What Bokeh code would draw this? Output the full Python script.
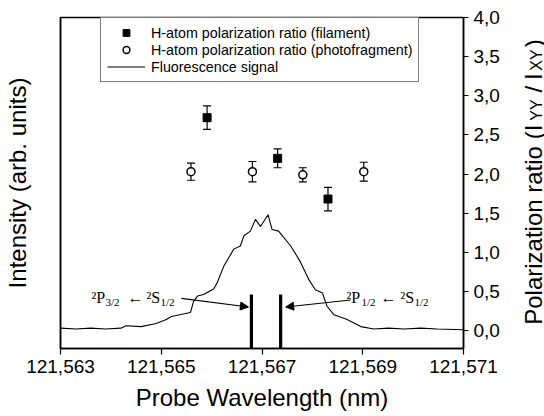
import math
from bokeh.plotting import figure
from bokeh.layouts import row
from bokeh.models import (LinearAxis, FixedTicker, Range1d, Legend, LegendItem,
                          Whisker, ColumnDataSource, Label, Arrow, NormalHead, TeeHead)
from bokeh.embed import file_html
from bokeh.resources import INLINE

# ---------------- data ----------------
fluor_x = [121.5630, 121.5633, 121.5636, 121.5639, 121.5642, 121.5643, 121.5646,
           121.5649, 121.5651, 121.5652, 121.56558, 121.56564, 121.56572, 121.56584,
           121.56604, 121.56611, 121.56624, 121.56644, 121.56657, 121.56664, 121.56677,
           121.56687, 121.56697, 121.56712, 121.56720, 121.56733, 121.56757, 121.56776,
           121.56793, 121.56806, 121.56820, 121.56829, 121.56843, 121.56869, 121.56896,
           121.56922, 121.56951, 121.56982, 121.57015, 121.57048, 121.5710]
fluor_y = [0.03, 0.02, 0.03, 0.02, 0.03, 0.06, 0.05, 0.09, 0.14, 0.18, 0.23, 0.37, 0.44,
           0.46, 0.53, 0.61, 0.82, 1.04, 1.08, 1.21, 1.27, 1.42, 1.33, 1.48, 1.29, 1.27,
           1.08, 0.88, 0.65, 0.52, 0.48, 0.31, 0.20, 0.14, 0.05, 0.02, 0.03, 0.02, 0.03,
           0.02, 0.01]

fil_x = [121.56591, 121.56731, 121.56831]
fil_ratio = [2.72, 2.20, 1.68]
fil_err = [0.15, 0.12, 0.15]

photo_x = [121.56559, 121.56681, 121.56781, 121.56902]
photo_ratio = [2.03, 2.03, 1.99, 2.03]
photo_err = [0.11, 0.13, 0.09, 0.12]

trans_x = [121.56679, 121.56737]
trans_top = [0.46, 0.46]

x_ticks = [121.563, 121.565, 121.567, 121.569, 121.571]
x_tick_labels = ["121,563", "121,565", "121,567", "121,569", "121,571"]
y_ticks = [0.0, 0.5, 1.0, 1.5, 2.0, 2.5, 3.0, 3.5, 4.0]
y_tick_labels = ["0,0", "0,5", "1,0", "1,5", "2,0", "2,5", "3,0", "3,5", "4,0"]

X0, X1 = 121.563, 121.571
Y0, Y1 = -0.23, 4.0

SANS = "Liberation Sans"
SERIF = "Liberation Serif"

p = figure(width=504, height=416, output_backend="svg", toolbar_location=None,
           x_range=Range1d(X0, X1), y_range=Range1d(Y0, Y1),
           x_axis_location=None, y_axis_location=None,
           min_border_left=60, min_border_right=41, min_border_top=17,
           min_border_bottom=68)
p.xgrid.visible = False
p.ygrid.visible = False
p.outline_line_color = "black"
p.outline_line_width = 1.5
p.background_fill_color = "white"
p.border_fill_color = "white"

# axes
bx = LinearAxis(ticker=FixedTicker(ticks=x_ticks),
                major_label_overrides=dict(zip(x_ticks, x_tick_labels)),
                axis_label="Probe Wavelength (nm)")
ly = LinearAxis(ticker=FixedTicker(ticks=[]), axis_label="Intensity (arb. units)")
ry = LinearAxis(ticker=FixedTicker(ticks=y_ticks),
                major_label_overrides=dict(zip(y_ticks, y_tick_labels)))
for ax in (bx, ly, ry):
    ax.axis_line_color = "black"
    ax.axis_line_width = 1.5
    ax.major_tick_line_color = "black"
    ax.major_tick_line_width = 1.2
    ax.major_tick_in = 0
    ax.major_tick_out = 6
    ax.minor_tick_line_color = None
    ax.major_label_text_font = SANS
    ax.major_label_text_font_size = "19px"
    ax.major_label_text_color = "black"
    ax.axis_label_text_font = SANS
    ax.axis_label_text_font_size = "24px"
    ax.axis_label_text_font_style = "normal"
    ax.axis_label_text_color = "black"
bx.major_label_standoff = 5
bx.axis_label_standoff = 8
ly.major_tick_out = 0
ly.axis_label_standoff = 30
ry.major_tick_out = 5
ry.major_label_standoff = 5
p.add_layout(bx, "below")
p.add_layout(ly, "left")
p.add_layout(ry, "right")

# fluorescence signal
r_line = p.line(fluor_x, fluor_y, line_color="black", line_width=1.1)

# transition lines
p.segment(x0=trans_x, y0=[Y0] * len(trans_x), x1=trans_x, y1=trans_top,
          line_color="black", line_width=3.2)

# error bars
fil_src = ColumnDataSource(dict(x=fil_x, y=fil_ratio,
                                lo=[v - e for v, e in zip(fil_ratio, fil_err)],
                                hi=[v + e for v, e in zip(fil_ratio, fil_err)]))
photo_src = ColumnDataSource(dict(x=photo_x, y=photo_ratio,
                                  lo=[v - e for v, e in zip(photo_ratio, photo_err)],
                                  hi=[v + e for v, e in zip(photo_ratio, photo_err)]))
for src in (fil_src, photo_src):
    p.add_layout(Whisker(source=src, base="x", lower="lo", upper="hi",
                         line_color="black", line_width=1.2,
                         upper_head=TeeHead(size=8, line_color="black", line_width=1.2),
                         lower_head=TeeHead(size=8, line_color="black", line_width=1.2)))

r_sq = p.scatter("x", "y", source=fil_src, marker="square", size=8,
                 fill_color="black", line_color="black")
r_ci = p.scatter("x", "y", source=photo_src, marker="circle", size=8,
                 fill_color="white", line_color="black", line_width=1.5)

legend = Legend(items=[
    LegendItem(label="H-atom polarization ratio (filament)", renderers=[r_sq]),
    LegendItem(label="H-atom polarization ratio (photofragment)", renderers=[r_ci]),
    LegendItem(label="Fluorescence signal", renderers=[r_line]),
], location=(40, 266), margin=0, padding=6, spacing=0,
    label_height=17, glyph_height=17, glyph_width=38, label_standoff=6,
    label_text_font=SANS, label_text_font_size="14.3px", label_text_color="black",
    border_line_color="black", border_line_width=1, background_fill_alpha=1)
p.add_layout(legend)

# transition labels
def piece(x, y, text, size, font=SERIF):
    p.add_layout(Label(x=x, y=y, text=text, text_font=font,
                       text_font_size=size, text_color="black",
                       text_baseline="alphabetic", text_align="left"))

base_y = 0.42
sub_y = 0.365
# 2P3/2 <- 2S1/2
piece(121.563615, base_y, "²P", "16px")
piece(121.563893, sub_y, "3/2", "11px")
piece(121.564330, base_y, "←", "16px")
piece(121.564707, base_y, "²S", "16px")
piece(121.564985, sub_y, "1/2", "11px")
# 2P1/2 <- 2S1/2
piece(121.568677, base_y, "²P", "16px")
piece(121.568975, sub_y, "1/2", "11px")
piece(121.569352, base_y, "←", "16px")
piece(121.569749, base_y, "²S", "16px")
piece(121.570027, sub_y, "1/2", "11px")

head = dict(size=8, fill_color="black", line_color="black", line_width=1)
p.add_layout(Arrow(end=NormalHead(**head), x_start=121.56540, y_start=0.41,
                   x_end=121.56673, y_end=0.30, line_color="black", line_width=1.2))
p.add_layout(Arrow(end=NormalHead(**head), x_start=121.56876, y_start=0.39,
                   x_end=121.56747, y_end=0.30, line_color="black", line_width=1.2))

# right axis title with subscripts, drawn in a narrow side figure sharing the y range
p2 = figure(width=40, height=416, output_backend="svg", toolbar_location=None,
            x_range=Range1d(0, 40), y_range=p.y_range,
            x_axis_location=None, y_axis_location=None, min_border=0,
            min_border_top=17, min_border_bottom=68)
p2.grid.visible = False
p2.outline_line_color = None
p2.background_fill_color = "white"
p2.border_fill_color = "white"

def rpiece(text, size, along, across):
    p2.add_layout(Label(x=across, y=along, text=text, text_font=SANS,
                        text_font_size=size, text_color="black", angle=math.pi / 2,
                        text_baseline="alphabetic", text_align="left"))

rpiece("Polarization ratio (I", "24px", 0.073, 29)
rpiece("YY", "16px", 2.68, 32)
rpiece("/", "24px", 3.04, 29)
rpiece("I", "24px", 3.20, 29)
rpiece("XY", "16px", 3.32, 32)
rpiece(")", "24px", 3.62, 29)

layout = row(p, p2)
open("out.html", "w").write(file_html(layout, INLINE))
